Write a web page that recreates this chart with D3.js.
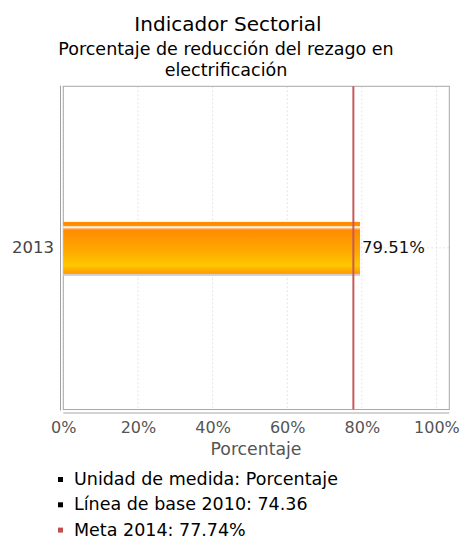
<!DOCTYPE html>
<html><head><meta charset="utf-8">
<script src="https://cdn.jsdelivr.net/npm/d3@7"></script>
<style>
html,body{margin:0;padding:0;background:#fff;}
svg{display:block;font-family:"DejaVu Sans",sans-serif;}
</style></head>
<body><svg id="c" width="461" height="539"></svg>
<script>
const categories = ["2013"];
const values = [79.51];
const goalValue = 77.74;
const xTicks = [0, 20, 40, 60, 80, 100];
const titleText = "Indicador Sectorial";
const subtitleLines = ["Porcentaje de reducción del rezago en", "electrificación"];
const axisTitle = "Porcentaje";
const legendItems = ["Unidad de medida: Porcentaje", "Línea de base 2010: 74.36", "Meta 2014: 77.74%"];
const legendColors = ["#000", "#000", "#c0504d"];

const svg = d3.select("#c");
const L = 63.3, R = 449.3, T = 86.3, B = 409.5;
const x = d3.scaleLinear().domain([0, 103.45]).range([L, R]);
const y = d3.scaleBand().domain(categories).range([T, B]);

const defs = svg.append("defs");
const g = defs.append("linearGradient").attr("id","bar").attr("x1",0).attr("y1",0).attr("x2",0).attr("y2",1);
[[0,"#ff8a00"],[0.07,"#ff9000"],[0.08,"#ffd8b0"],[0.11,"#fff2e4"],[0.13,"#ffb060"],[0.16,"#ff8c00"],[0.55,"#ffa800"],[0.84,"#ffc800"],[0.90,"#ffb400"],[1,"#ff9a00"]]
  .forEach(([o,c]) => g.append("stop").attr("offset",o).attr("stop-color",c));

// title
svg.append("text").attr("x",228).attr("y",30.5).attr("text-anchor","middle")
  .attr("font-size",20).attr("fill","#000").text(titleText);
subtitleLines.forEach((t,i) => svg.append("text").attr("x",226).attr("y",55+i*21)
  .attr("text-anchor","middle").attr("font-size",17.5).attr("fill","#000").text(t));

// grid
svg.append("g").selectAll("line").data(xTicks).join("line")
  .attr("x1",d=>x(d)).attr("x2",d=>x(d)).attr("y1",T).attr("y2",B)
  .attr("stroke","#e4e4e4").attr("stroke-dasharray","2,2");
svg.append("g").selectAll("line").data(categories).join("line")
  .attr("x1",L).attr("x2",R).attr("y1",d=>y(d)+y.bandwidth()/2).attr("y2",d=>y(d)+y.bandwidth()/2)
  .attr("stroke","#e4e4e4").attr("stroke-dasharray","2,2");

// frame
svg.append("rect").attr("x",L).attr("y",T).attr("width",R-L).attr("height",B-T)
  .attr("fill","none").attr("stroke","#a8a8a8").attr("stroke-width",1);
svg.append("line").attr("x1",60.5).attr("x2",60.5).attr("y1",T-0.5).attr("y2",B+1)
  .attr("stroke","#a0a0a0");

// bars
const barH = 52;
const bars = svg.append("g").selectAll("g").data(categories).join("g");
bars.append("rect").attr("x",L).attr("y",(d)=>y(d)+y.bandwidth()/2-barH/2+2)
  .attr("width",(d,i)=>x(values[i])-L).attr("height",barH).attr("fill","#d0d0d0");
bars.append("rect").attr("x",L).attr("y",(d)=>y(d)+y.bandwidth()/2-barH/2)
  .attr("width",(d,i)=>x(values[i])-L).attr("height",barH).attr("fill","url(#bar)");
bars.append("text").attr("x",(d,i)=>x(values[i])+2).attr("y",d=>y(d)+y.bandwidth()/2+5.5)
  .attr("font-size",16.5).attr("fill","#111").text((d,i)=>values[i].toFixed(2)+"%");

// goal line
svg.append("line").attr("x1",x(goalValue)).attr("x2",x(goalValue)).attr("y1",T).attr("y2",B)
  .attr("stroke","#c85a5a").attr("stroke-width",2);

// y axis labels
svg.append("g").selectAll("text").data(categories).join("text")
  .attr("x",54).attr("y",d=>y(d)+y.bandwidth()/2+5.5).attr("text-anchor","end")
  .attr("font-size",16.5).attr("fill","#444").text(d=>d);

// x axis
const xa = svg.append("g").attr("transform",`translate(0,${B+3})`)
  .call(d3.axisBottom(x).tickValues(xTicks).tickFormat(d=>d+"%").tickSize(0).tickPadding(9));
xa.select(".domain").attr("stroke","#a8a8a8").attr("d",`M${L},0.5H${R}`);
xa.selectAll("text").attr("font-size",16).attr("fill","#555").attr("font-family","DejaVu Sans");
svg.append("text").attr("x",256).attr("y",455).attr("text-anchor","middle")
  .attr("font-size",17.3).attr("fill","#555").text(axisTitle);

// legend
const lg = svg.append("g").selectAll("g").data(legendItems).join("g")
  .attr("transform",(d,i)=>`translate(0,${485+i*25.3})`);
lg.append("rect").attr("x",58).attr("y",-8).attr("width",5).attr("height",5)
  .attr("fill",(d,i)=>legendColors[i]);
lg.append("text").attr("x",74).attr("y",0).attr("font-size",17.5).attr("fill","#000").text(d=>d);
</script>
</body></html>
